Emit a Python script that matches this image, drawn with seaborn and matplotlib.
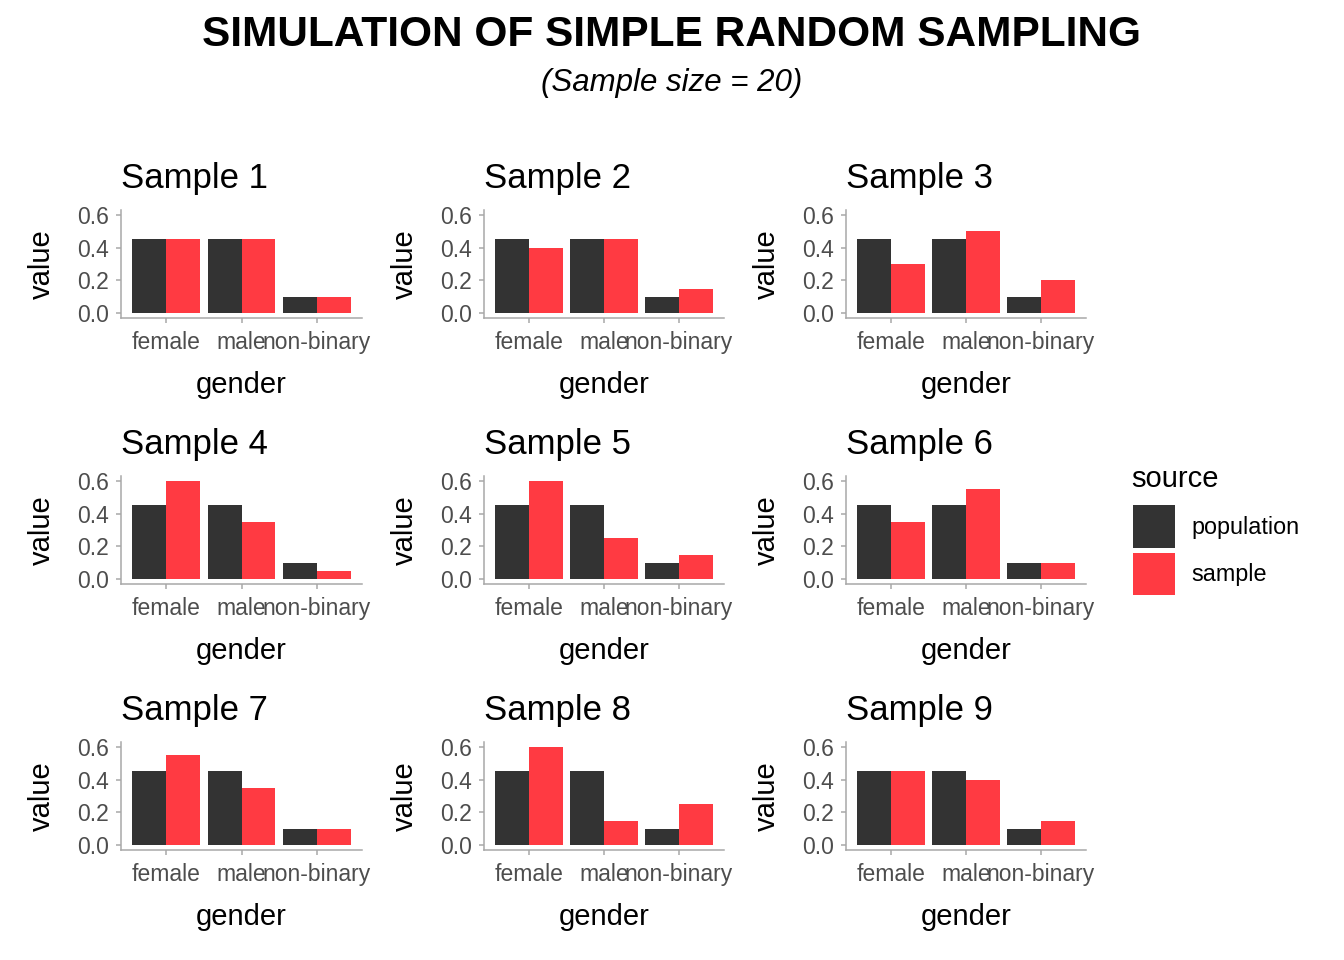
import matplotlib
matplotlib.use("Agg")
import matplotlib.pyplot as plt
from matplotlib.patches import Patch
import pandas as pd
import seaborn as sns

# Data: share of each gender in the population and in nine samples of size 20
genders = ["female", "male", "non-binary"]
population = [0.45, 0.45, 0.10]
sample_1 = [0.45, 0.45, 0.10]
sample_2 = [0.40, 0.45, 0.15]
sample_3 = [0.30, 0.50, 0.20]
sample_4 = [0.60, 0.35, 0.05]
sample_5 = [0.60, 0.25, 0.15]
sample_6 = [0.35, 0.55, 0.10]
sample_7 = [0.55, 0.35, 0.10]
sample_8 = [0.60, 0.15, 0.25]
sample_9 = [0.45, 0.40, 0.15]
samples = [sample_1, sample_2, sample_3, sample_4, sample_5,
           sample_6, sample_7, sample_8, sample_9]
sources = ["population", "sample"]
colors = {"population": "#333333", "sample": "#FF3A42"}

rows = []
for i, vals in enumerate(samples, start=1):
    for g, p, s in zip(genders, population, vals):
        rows.append({"panel": i, "gender": g, "source": "population", "value": p})
        rows.append({"panel": i, "gender": g, "source": "sample", "value": s})
df = pd.DataFrame(rows)

sns.set_theme(style="white")
plt.rcParams["font.family"] = ["Liberation Sans", "DejaVu Sans"]
plt.rcParams["text.color"] = "black"
plt.rcParams["axes.labelcolor"] = "black"

W, H = 1344, 960
fig = plt.figure(figsize=(W / 100, H / 100), dpi=100)

col_x = [(121, 362), (484, 724), (846, 1086)]
row_y = [(210, 318), (476, 584), (742, 850)]
spine_col = "#a8a8a8"

for i in range(9):
    r, c = divmod(i, 3)
    x0, x1 = col_x[c]
    y0, y1 = row_y[r]
    ax = fig.add_axes([x0 / W, 1 - y1 / H, (x1 - x0) / W, (y1 - y0) / H])
    sub = df[df["panel"] == i + 1]
    sns.barplot(data=sub, x="gender", y="value", hue="source",
                order=genders, hue_order=sources, palette=colors,
                width=0.9, saturation=1, linewidth=0, legend=False, ax=ax)
    ax.set_xlim(-0.6, 2.6)
    ax.set_ylim(-0.03, 0.63)
    ax.set_yticks([0, 0.2, 0.4, 0.6])
    ax.set_yticklabels(["0.0", "0.2", "0.4", "0.6"])
    for side in ["top", "right"]:
        ax.spines[side].set_visible(False)
    for side in ["left", "bottom"]:
        ax.spines[side].set_color(spine_col)
        ax.spines[side].set_linewidth(1.1)
    ax.tick_params(axis="both", colors=spine_col, labelcolor="#4d4d4d",
                   labelsize=16.5, length=3.5, width=1.1, left=True, bottom=True)
    ax.tick_params(axis="x", pad=6)
    ax.tick_params(axis="y", pad=5)
    ax.set_xlabel("gender", fontsize=21, color="black")
    ax.set_ylabel("value", fontsize=21, color="black")
    ax.xaxis.set_label_coords(0.5, -0.49)
    ax.yaxis.set_label_coords(-0.27, 0.5)
    ax.set_title(f"Sample {i + 1}", loc="left", fontsize=25, pad=15.5,
                 color="black")

fig.text(0.5, 1 - 35 / H, "SIMULATION OF SIMPLE RANDOM SAMPLING",
         ha="center", va="center", fontsize=30.5, fontweight="bold")
fig.text(0.5, 1 - 83 / H, "(Sample size = 20)",
         ha="center", va="center", fontsize=22.5, style="italic")

# legend: title drawn separately so the gap to the keys can match
fig.text(1131 / W, 1 - 479 / H, "source", ha="left", va="center", fontsize=21)
handles = [Patch(facecolor=colors[s], edgecolor="none") for s in sources]
leg = fig.legend(handles, sources, loc="upper left",
                 bbox_to_anchor=(1133 / W, 1 - 505 / H), frameon=False,
                 fontsize=16.8, handlelength=1.8, handleheight=2.45,
                 labelspacing=0.2, handletextpad=0.7, borderpad=0,
                 borderaxespad=0)

fig.savefig("out.png", dpi=100)
